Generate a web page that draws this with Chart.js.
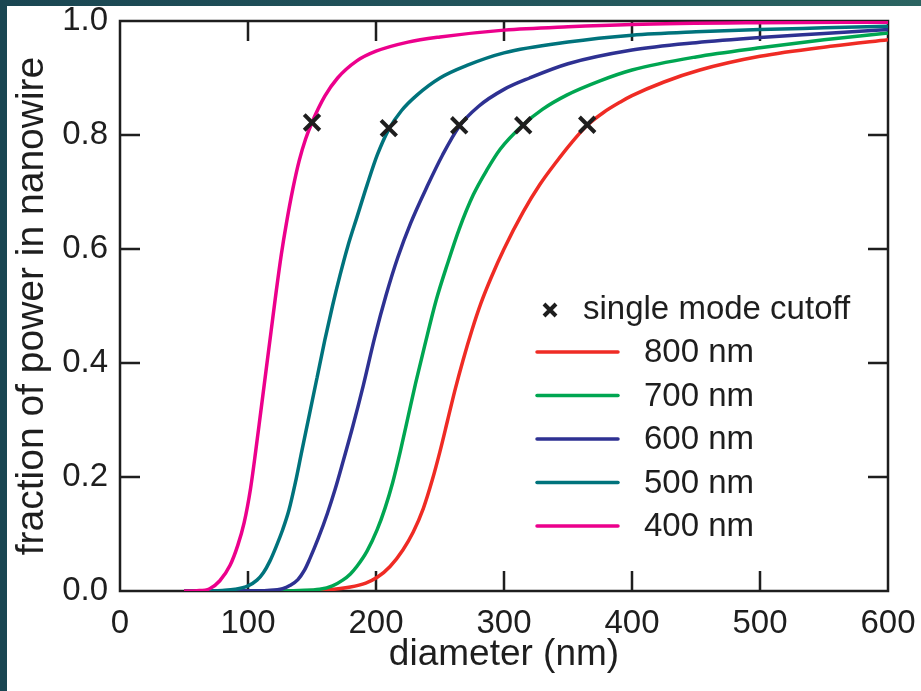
<!DOCTYPE html>
<html>
<head>
<meta charset="utf-8">
<script src="https://cdn.jsdelivr.net/npm/chart.js@4.4.1/dist/chart.umd.min.js"></script>
<style>
  html, body { margin: 0; padding: 0; }
  body {
    width: 921px; height: 691px; position: relative; overflow: hidden;
    background: linear-gradient(90deg, #1a4652 0%, #22555c 55%, #2b6461 100%);
  }
  #chart { position: absolute; left: 7px; top: 6px; background: #fff; }
</style>
</head>
<body>
<canvas id="chart" width="914" height="685"></canvas>
<script>
// diameters (nm) and fraction of power
const d400 = [50, 60, 70, 78, 86, 92, 97, 102, 106, 110, 114, 118, 122, 126, 130, 135, 140, 145, 150, 160, 170, 185, 200, 225, 250, 300, 350, 400, 500, 600];
const f400 = [0, 0.0005, 0.004, 0.018, 0.045, 0.08, 0.12, 0.18, 0.245, 0.315, 0.385, 0.455, 0.525, 0.59, 0.645, 0.705, 0.755, 0.793, 0.822, 0.868, 0.9, 0.93, 0.947, 0.963, 0.972, 0.984, 0.99, 0.994, 0.997, 0.998];

const d500 = [50, 70, 80, 90, 100, 107, 112, 117, 122, 127, 132, 137, 142, 148, 154, 160, 166, 172, 178, 185, 193, 201, 210, 220, 232, 250, 271, 300, 350, 400, 450, 500, 550, 600];
const f500 = [0, 0.0003, 0.001, 0.003, 0.009, 0.019, 0.032, 0.052, 0.078, 0.107, 0.142, 0.19, 0.245, 0.31, 0.375, 0.44, 0.5, 0.555, 0.605, 0.655, 0.712, 0.765, 0.81, 0.843, 0.87, 0.9, 0.922, 0.944, 0.963, 0.975, 0.981, 0.985, 0.988, 0.991];

const d600 = [50, 100, 115, 127, 133, 139, 144, 148, 155, 162, 168, 174, 182, 190, 199, 208, 217, 227, 240, 252, 265, 280, 300, 320, 350, 400, 450, 500, 550, 600];
const f600 = [0, 0.0003, 0.001, 0.004, 0.01, 0.02, 0.036, 0.055, 0.093, 0.136, 0.178, 0.225, 0.29, 0.36, 0.445, 0.52, 0.585, 0.645, 0.71, 0.765, 0.815, 0.85, 0.88, 0.9, 0.925, 0.949, 0.962, 0.971, 0.978, 0.985];

const d700 = [50, 120, 140, 156, 166, 174, 180, 185, 193, 201, 207, 213, 219, 225, 231, 238, 247, 256, 265, 276, 287, 297, 315, 330, 349, 375, 400, 450, 500, 550, 600];
const f700 = [0, 0.0002, 0.001, 0.003, 0.009, 0.019, 0.03, 0.043, 0.07, 0.108, 0.145, 0.19, 0.245, 0.305, 0.365, 0.43, 0.51, 0.575, 0.635, 0.695, 0.74, 0.775, 0.818, 0.845, 0.87, 0.895, 0.914, 0.937, 0.953, 0.967, 0.979];

const d800 = [50, 140, 162, 180, 192, 201, 211, 221, 229, 237, 244, 250, 256, 262, 268, 275, 282, 290, 300, 315, 328, 341, 353, 365, 378, 391, 400, 425, 453, 500, 557, 600];
const f800 = [0, 0.0002, 0.002, 0.007, 0.014, 0.024, 0.043, 0.072, 0.103, 0.145, 0.195, 0.245, 0.3, 0.355, 0.405, 0.458, 0.505, 0.55, 0.6, 0.665, 0.713, 0.753, 0.787, 0.817, 0.84, 0.858, 0.869, 0.893, 0.914, 0.938, 0.956, 0.967];

// single mode cutoff markers
const cutoffD = [150, 210, 265, 315, 365];
const cutoffF = [0.822, 0.812, 0.817, 0.817, 0.818];

const xTicks = [0, 100, 200, 300, 400, 500, 600];
const yTicks = [0, 0.2, 0.4, 0.6, 0.8, 1.0];

const FONT = "'Liberation Sans', Arial, Helvetica, sans-serif";
const INK = '#1e1e1e';

const toPts = (xs, ys) => xs.map((x, i) => ({ x: x, y: ys[i] }));

// pink first so it sits on top, red at the bottom
const curves = [
  { label: '400 nm', d: d400, f: f400, color: '#ec008c' },
  { label: '500 nm', d: d500, f: f500, color: '#00737c' },
  { label: '600 nm', d: d600, f: f600, color: '#2e3192' },
  { label: '700 nm', d: d700, f: f700, color: '#00a651' },
  { label: '800 nm', d: d800, f: f800, color: '#ef2b24' }
];

const datasets = [{
  label: 'single mode cutoff',
  data: toPts(cutoffD, cutoffF),
  showLine: false,
  pointStyle: 'crossRot',
  pointRadius: 11,
  pointBorderWidth: 4,
  borderColor: INK,
  backgroundColor: INK
}].concat(curves.map(c => ({
  label: c.label,
  data: toPts(c.d, c.f),
  borderColor: c.color,
  backgroundColor: c.color,
  borderWidth: 3.5,
  pointRadius: 0,
  fill: false,
  cubicInterpolationMode: 'monotone'
})));

// box frame with inward ticks, drawn under the curves
const frame = {
  id: 'frame',
  beforeDatasetsDraw(chart) {
    const { ctx, chartArea: a, scales } = chart;
    ctx.save();
    ctx.strokeStyle = INK;
    ctx.lineWidth = 2.5;
    ctx.beginPath();
    xTicks.slice(1, -1).forEach(v => {
      const px = Math.round(scales.x.getPixelForValue(v));
      ctx.moveTo(px, a.bottom); ctx.lineTo(px, a.bottom - 20);
      ctx.moveTo(px, a.top); ctx.lineTo(px, a.top + 20);
    });
    yTicks.slice(1, -1).forEach(v => {
      const py = Math.round(scales.y.getPixelForValue(v));
      ctx.moveTo(a.left, py); ctx.lineTo(a.left + 20, py);
      ctx.moveTo(a.right, py); ctx.lineTo(a.right - 20, py);
    });
    ctx.stroke();
    ctx.strokeRect(a.left, a.top, a.right - a.left, a.bottom - a.top);
    ctx.restore();
  }
};

// legend inside the plot, right side
const boxLegend = {
  id: 'boxLegend',
  afterDraw(chart) {
    const { ctx, chartArea: a } = chart;
    const sets = chart.data.datasets;
    ctx.save();
    ctx.font = '33px ' + FONT;
    ctx.fillStyle = INK;
    ctx.textBaseline = 'middle';

    const cx = a.left + 430, cy = a.top + 289;
    ctx.strokeStyle = INK;
    ctx.lineWidth = 4;
    ctx.beginPath();
    ctx.moveTo(cx - 6, cy - 6); ctx.lineTo(cx + 6, cy + 6);
    ctx.moveTo(cx + 6, cy - 6); ctx.lineTo(cx - 6, cy + 6);
    ctx.stroke();
    ctx.fillText(sets[0].label, a.left + 463, cy);

    const items = sets.slice(1).reverse();
    items.forEach((ds, i) => {
      const y = a.top + 331 + i * 43.5;
      ctx.strokeStyle = ds.borderColor;
      ctx.lineWidth = 3.5;
      ctx.lineCap = 'round';
      ctx.beginPath();
      ctx.moveTo(a.left + 417, y); ctx.lineTo(a.left + 498, y);
      ctx.stroke();
      ctx.fillText(ds.label, a.left + 524, y + 1);
    });
    ctx.restore();
  }
};

new Chart(document.getElementById('chart'), {
  type: 'line',
  data: { datasets: datasets },
  plugins: [frame, boxLegend],
  options: {
    responsive: false,
    animation: false,
    layout: { padding: { left: 0, right: 33, top: 12, bottom: 0 } },
    plugins: {
      legend: { display: false },
      tooltip: { enabled: false }
    },
    scales: {
      x: {
        type: 'linear',
        min: 0,
        max: 600,
        afterBuildTicks: s => { s.ticks = xTicks.map(v => ({ value: v })); },
        afterFit: s => { s.height = 100; s.paddingLeft = 0; s.paddingRight = 0; },
        ticks: { color: INK, padding: 13, font: { family: FONT, size: 33 } },
        grid: { display: false, drawTicks: false },
        border: { display: false },
        title: {
          display: true,
          text: 'diameter (nm)',
          color: INK,
          font: { family: FONT, size: 37 },
          padding: { top: 0, bottom: 14 }
        }
      },
      y: {
        min: 0,
        max: 1,
        afterBuildTicks: s => { s.ticks = yTicks.map(v => ({ value: v })); },
        afterFit: s => { s.width = 113; s.paddingTop = 0; s.paddingBottom = 0; },
        ticks: {
          color: INK,
          padding: 12,
          font: { family: FONT, size: 33 },
          callback: v => v.toFixed(1)
        },
        grid: { display: false, drawTicks: false },
        border: { display: false },
        title: {
          display: true,
          text: 'fraction of power in nanowire',
          color: INK,
          font: { family: FONT, size: 39 },
          padding: { top: 2, bottom: 0 }
        }
      }
    }
  }
});
</script>
</body>
</html>
